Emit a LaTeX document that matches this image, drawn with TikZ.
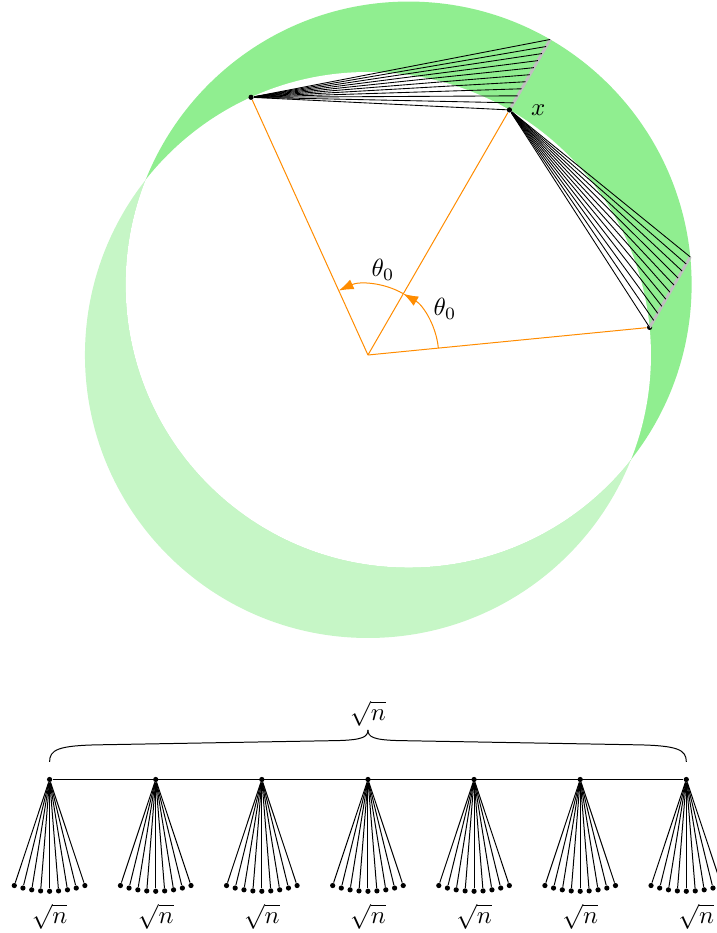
\documentclass[tikz,border=0pt]{standalone}
\usepackage{amsmath,amssymb}
\usetikzlibrary{arrows.meta, positioning, calc}
\definecolor{grnband}{HTML}{90EE90}
\definecolor{paleband}{HTML}{C6F6C6}
\definecolor{orng}{HTML}{FF8C00}

\begin{document}
\begin{tikzpicture}[
  dot/.style={circle, fill=black, inner sep=0pt, minimum size=2.1pt},
  ray/.style={orng, line width=0.4pt},
  ang/.style={orng, line width=0.4pt, -{Latex[length=2.1mm, width=1.5mm]}},
  fan/.style={black, line width=0.35pt},
  shiftseg/.style={lightgray, line width=1.2pt},
]
  \useasboundingbox (-5.201,-8.170) rectangle (4.933,5.018);

  % disc and its shifted copy
  \coordinate (O) at (0,0);
  \coordinate (O2) at (60:1.15);
  \fill[paleband] (O) circle (4);
  \fill[grnband] (O2) circle (4);
  \begin{scope}
    \clip (O) circle (4);
    \fill[white] (O2) circle (4);
  \end{scope}

  % points on the circle
  \node[dot] (p1) at (114.4:4) {};
  \node[dot] (x) at (60:4) {};
  \node[dot] (p3) at (5.6:4) {};
  \coordinate (xs) at ($(x.center)+(60:1.15)$);
  \coordinate (p3s) at ($(p3.center)+(60:1.15)$);

  \draw[shiftseg] (x) -- (xs);
  \draw[shiftseg] (p3.center) -- (p3s);
  \foreach \k in {0,...,10} {
    \draw[fan] (p1) -- ($(x.center)!{\k/10}!(xs)$);
    \draw[fan] (x) -- ($(p3.center)!{\k/10}!(p3s)$);
  }
  \node[right=0.14 of x] (xl) {$x$};

  % angles
  \draw[ray] (O) -- (p1);
  \draw[ray] (O) -- (x);
  \draw[ray] (O) -- (p3);
  \draw[ang] (5.6:1) arc[start angle=5.6, end angle=60, radius=1];
  \draw[ang] (60:1) arc[start angle=60, end angle=114.4, radius=1];
  \node (th1) at (31:1.27) {$\theta_0$};
  \node (th2) at (80:1.22) {$\theta_0$};

  % tree of sqrt(n) stars
  \foreach \i in {1,...,7} {
    \node[dot] (r\i) at ({1.5*(\i-4)},-6) {};
    \foreach \j in {1,...,9} {
      \node[dot] (r\i-\j) at ($(r\i)+({-90+4.6*(\j-5)}:1.58)$) {};
      \draw[line width=0.4pt] (r\i) -- (r\i-\j);
    }
  }
  \draw[line width=0.4pt] (r1) -- (r7);
  \foreach \i/\dx in {1/0,2/0,3/0,4/0,5/0,6/0,7/0.14}
    \node (s\i) at ($(r\i)+(\dx,-1.94)$) {$\sqrt{n}$};

  % brace over the roots
  \coordinate (bl) at ($(r1)+(0,0.25)$);
  \coordinate (br) at ($(r7)+(0,0.25)$);
  \coordinate (bt) at ($(r4)+(0,0.7)$);
  \draw[line width=0.4pt] (bl) .. controls ($(bl)+(0,0.17)$) and ($(bl)+(0.12,0.23)$) .. ($(bl)+(0.7,0.24)$)
    -- ($(bt)+(-0.42,-0.15)$) .. controls ($(bt)+(-0.08,-0.14)$) and ($(bt)+(0,-0.1)$) .. (bt);
  \draw[line width=0.4pt] (br) .. controls ($(br)+(0,0.17)$) and ($(br)+(-0.12,0.23)$) .. ($(br)+(-0.7,0.24)$)
    -- ($(bt)+(0.42,-0.15)$) .. controls ($(bt)+(0.08,-0.14)$) and ($(bt)+(0,-0.1)$) .. (bt);
  \node (stop) at ($(r4)+(0,0.93)$) {$\sqrt{n}$};
\end{tikzpicture}
\end{document}
